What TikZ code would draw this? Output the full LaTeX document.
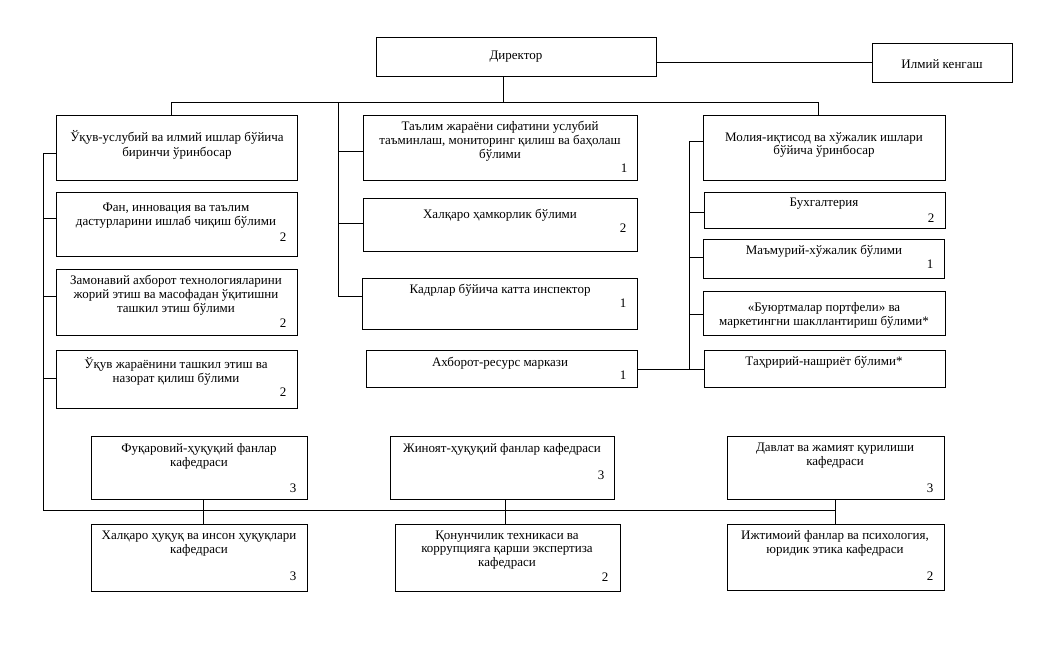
\documentclass[tikz,border=0pt]{standalone}
\usepackage{fontspec}
\setmainfont{Liberation Serif}
\usetikzlibrary{fit}
\tikzset{
  box/.style={draw=black, line width=0.8pt, inner sep=0pt, rectangle},
  txt/.style={align=center, inner sep=0pt, font=\fontsize{13}{13.8}\selectfont},
  num/.style={inner sep=0pt, font=\fontsize{13}{14}\selectfont},
  conn/.style={draw=black, line width=0.7pt}
}
\begin{document}
\begin{tikzpicture}[x=1pt,y=-1pt]
\useasboundingbox (0,0) rectangle (1059,649);
% boxes
\node[box, fit={(376,37) (656,76)}] (dir) {};
\node[box, fit={(872,43) (1012,82)}] (ilm) {};
\node[box, fit={(56,115) (297,180)}] (d1) {};
\node[box, fit={(56,192) (297,256)}] (d1a) {};
\node[box, fit={(56,269) (297,335)}] (d1b) {};
\node[box, fit={(56,350) (297,408)}] (d1c) {};
\node[box, fit={(363,115) (637,180)}] (m1) {};
\node[box, fit={(363,198) (637,251)}] (m2) {};
\node[box, fit={(362,278) (637,329)}] (m3) {};
\node[box, fit={(366,350) (637,387)}] (m4) {};
\node[box, fit={(703,115) (945,180)}] (r1) {};
\node[box, fit={(704,192) (945,228)}] (r2) {};
\node[box, fit={(703,239) (944,278)}] (r3) {};
\node[box, fit={(703,291) (945,335)}] (r4) {};
\node[box, fit={(704,350) (945,387)}] (r5) {};
\node[box, fit={(91,436) (307,499)}] (k1) {};
\node[box, fit={(91,524) (307,591)}] (k2) {};
\node[box, fit={(390,436) (614,499)}] (k3) {};
\node[box, fit={(395,524) (620,591)}] (k4) {};
\node[box, fit={(727,436) (944,499)}] (k5) {};
\node[box, fit={(727,524) (944,590)}] (k6) {};
% texts
\node[txt] (tdir) at (516,57) {Директор};
\node[txt] (tilm) at (942,64) {Илмий кенгаш};
\node[txt] (td1) at (177,145) {Ўқув-услубий ва илмий ишлар бўйича\\[1.5pt]биринчи ўринбосар};
\node[txt] (td1a) at (176,216) {Фан, инновация ва таълим\\дастурларини ишлаб чиқиш бўлими};
\node[num] (nd1a) at (283,237) {2};
\node[txt] (td1b) at (176,295) {Замонавий ахборот технологияларини\\жорий этиш ва масофадан ўқитишни\\ташкил этиш бўлими};
\node[num] (nd1b) at (283,323) {2};
\node[txt] (td1c) at (176,371) {Ўқув жараёнини ташкил этиш ва\\назорат қилиш бўлими};
\node[num] (nd1c) at (283,392) {2};
\node[txt] (tm1) at (500,141) {Таълим жараёни сифатини услубий\\таъминлаш, мониторинг қилиш ва баҳолаш\\бўлими};
\node[num] (nm1) at (624,168) {1};
\node[txt] (tm2) at (500,215) {Халқаро ҳамкорлик бўлими};
\node[num] (nm2) at (623,228) {2};
\node[txt] (tm3) at (500,290) {Кадрлар бўйича катта инспектор};
\node[num] (nm3) at (623,303) {1};
\node[txt] (tm4) at (500,363) {Ахборот-ресурс маркази};
\node[num] (nm4) at (623,375) {1};
\node[txt] (tr1) at (824,145) {Молия-иқтисод ва хўжалик ишлари\\бўйича ўринбосар};
\node[txt] (tr2) at (824,204) {Бухгалтерия};
\node[num] (nr2) at (931,218) {2};
\node[txt] (tr3) at (824,251) {Маъмурий-хўжалик бўлими};
\node[num] (nr3) at (930,264) {1};
\node[txt] (tr4) at (824,315) {«Буюртмалар портфели» ва\\маркетингни шакллантириш бўлими*};
\node[txt] (tr5) at (824,362) {Таҳририй-нашриёт бўлими*};
\node[txt] (tk1) at (199,456) {Фуқаровий-ҳуқуқий фанлар\\кафедраси};
\node[num] (nk1) at (293,488) {3};
\node[txt] (tk2) at (199,544) {Халқаро ҳуқуқ ва инсон ҳуқуқлари\\кафедраси};
\node[num] (nk2) at (293,576) {3};
\node[txt] (tk3) at (502,449) {Жиноят-ҳуқуқий фанлар кафедраси};
\node[num] (nk3) at (601,475) {3};
\node[txt] (tk4) at (507,550) {Қонунчилик техникаси ва\\коррупцияга қарши экспертиза\\кафедраси};
\node[num] (nk4) at (605,577) {2};
\node[txt] (tk5) at (835,456) {Давлат ва жамият қурилиши\\кафедраси};
\node[num] (nk5) at (930,488) {3};
\node[txt] (tk6) at (835,543) {Ижтимоий фанлар ва психология,\\юридик этика кафедраси};
\node[num] (nk6) at (930,576) {2};
% junction coordinates
\coordinate (busL) at (171,102);
\coordinate (busM) at (338,102);
\coordinate (busR) at (818,102);
\coordinate (lsp) at (43,153);
\coordinate (lbot) at (43,510);
\coordinate (bbR) at (835,510);
\coordinate (rsp) at (689,141);
\coordinate (rbot) at (689,369);
\coordinate (msp) at (338,296);
% connectors
\draw[conn] (ilm.west) -- (ilm.west -| dir.east);
\draw[conn] (503,0 |- dir.south) -- (503,102);
\draw[conn] (busL |- d1.north) -- (busL) -- (busR) -- (busR |- r1.north);
\draw[conn] (busM) -- (msp);
\draw[conn] (338,151) -- (338,151 -| m1.west);
\draw[conn] (338,223) -- (338,223 -| m2.west);
\draw[conn] (msp) -- (msp -| m3.west);
\draw[conn] (lsp) -- (lsp -| d1.west);
\draw[conn] (lsp) -- (lbot) -- (bbR);
\draw[conn] (43,218) -- (43,218 -| d1a.west);
\draw[conn] (43,296) -- (43,296 -| d1b.west);
\draw[conn] (43,378) -- (43,378 -| d1c.west);
\draw[conn] (rsp) -- (rbot);
\draw[conn] (rsp) -- (rsp -| r1.west);
\draw[conn] (689,212) -- (689,212 -| r2.west);
\draw[conn] (689,257) -- (689,257 -| r3.west);
\draw[conn] (689,314) -- (689,314 -| r4.west);
\draw[conn] (m4.east |- rbot) -- (r5.west |- rbot);
\draw[conn] (203,0 |- k1.south) -- (203,0 |- k2.north);
\draw[conn] (505,0 |- k3.south) -- (505,0 |- k4.north);
\draw[conn] (835,0 |- k5.south) -- (835,0 |- k6.north);
\end{tikzpicture}
\end{document}
